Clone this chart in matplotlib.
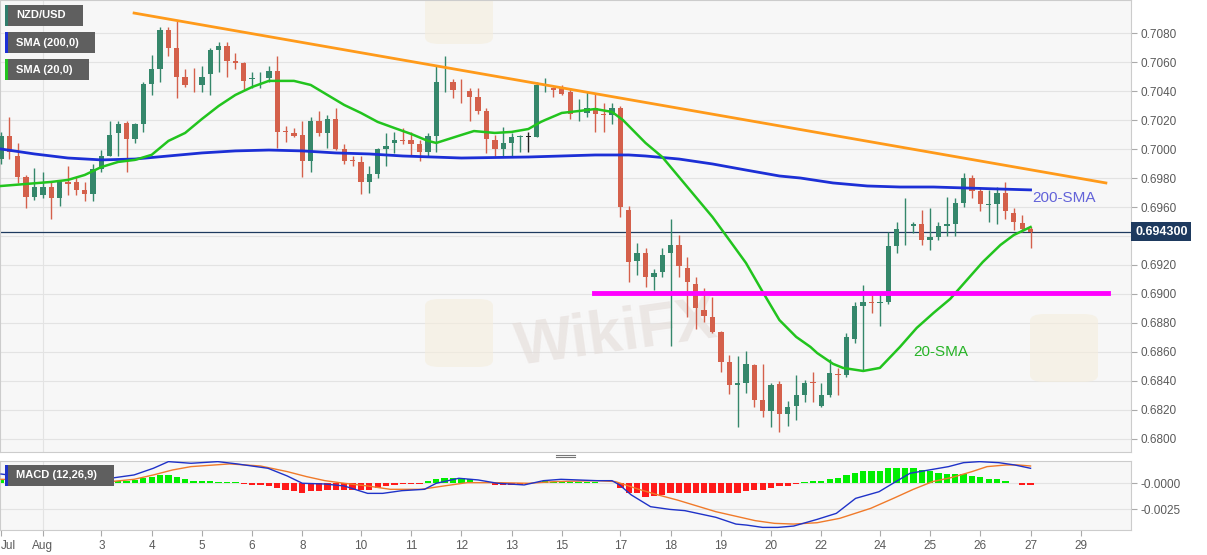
import numpy as np
import matplotlib.pyplot as plt
from matplotlib.patches import Rectangle, FancyBboxPatch
from matplotlib.lines import Line2D

plt.rcParams['font.family'] = ['Liberation Sans', 'DejaVu Sans']

# NZD/USD 4h candles, Jul 30 - Aug 27
opens = [0.6993, 0.7009, 0.6995, 0.6981, 0.6967, 0.6968, 0.6974, 0.6966, 0.6977, 0.6977,
         0.6972, 0.6969, 0.6986, 0.6995, 0.7011, 0.7018, 0.7007, 0.7017, 0.7045, 0.7055,
         0.7082, 0.7070, 0.7050, 0.70438, 0.7044, 0.7052, 0.7068, 0.7071, 0.7061, 0.7059,
         0.70486, 0.70487, 0.7049, 0.7054, 0.70121, 0.7011, 0.7010, 0.6992, 0.7019, 0.7011,
         0.7021, 0.7000, 0.6992, 0.6991, 0.6977, 0.6983, 0.7000, 0.7004, 0.7006, 0.7006,
         0.70035, 0.6998, 0.7009, 0.70452, 0.7046, 0.7041, 0.7040, 0.7036, 0.7026, 0.7006,
         0.7000, 0.7004, 0.70082, 0.70085, 0.7008, 0.70452, 0.7042, 0.7042, 0.7039, 0.70267,
         0.7025, 0.7028, 0.7024, 0.70235, 0.7028, 0.6958, 0.6923, 0.6928, 0.6912, 0.6915,
         0.6928, 0.6934, 0.6918, 0.6907, 0.6889, 0.6884, 0.6874, 0.6853, 0.6837, 0.68386,
         0.6851, 0.6827, 0.6819, 0.6838, 0.6817, 0.6823, 0.6830, 0.6839, 0.6823, 0.6830,
         0.68445, 0.6844, 0.6869, 0.6892, 0.68945, 0.68938, 0.68945, 0.6933, 0.6946, 0.6947,
         0.6948, 0.6937, 0.6939, 0.6947, 0.6948, 0.6963, 0.6980, 0.6971, 0.69614, 0.6962,
         0.6970, 0.6956, 0.6949, 0.6945]
highs = [0.7012, 0.7022, 0.7004, 0.6982, 0.6987, 0.6984, 0.6977, 0.6977, 0.6988, 0.6981,
         0.6977, 0.6990, 0.6999, 0.7019, 0.7019, 0.7019, 0.7018, 0.7046, 0.7065, 0.7084,
         0.7084, 0.7088, 0.7055, 0.7056, 0.7057, 0.7070, 0.7074, 0.7074, 0.7066, 0.7060,
         0.7053, 0.7053, 0.7057, 0.7064, 0.7016, 0.70145, 0.7019, 0.7022, 0.7026, 0.70235,
         0.7028, 0.70035, 0.6995, 0.6995, 0.6988, 0.70007, 0.7011, 0.7012, 0.70145, 0.7012,
         0.7006, 0.7011, 0.7057, 0.7064, 0.7048, 0.7048, 0.7042, 0.7042, 0.7028, 0.7010,
         0.7015, 0.7011, 0.7010, 0.7012, 0.7046, 0.7049, 0.7043, 0.7044, 0.7042, 0.70345,
         0.7039, 0.7038, 0.7032, 0.7032, 0.7030, 0.6961, 0.6935, 0.6932, 0.6917, 0.6932,
         0.6952, 0.6941, 0.69255, 0.6912, 0.6904, 0.6898, 0.68745, 0.6858, 0.6857, 0.6861,
         0.6852, 0.6852, 0.68387, 0.6840, 0.6826, 0.6844, 0.6841, 0.6846, 0.68386, 0.6855,
         0.6849, 0.6873, 0.68945, 0.6906, 0.6899, 0.6901, 0.6943, 0.6950, 0.6966, 0.6950,
         0.6958, 0.6959, 0.6950, 0.6967, 0.6966, 0.69835, 0.6982, 0.6974, 0.6972, 0.6974,
         0.6977, 0.6959, 0.69545, 0.6946]
lows = [0.6990, 0.6993, 0.69766, 0.6959, 0.6965, 0.6966, 0.6952, 0.6961, 0.6968, 0.6968,
        0.6964, 0.6964, 0.6984, 0.6995, 0.6995, 0.6984, 0.7004, 0.7012, 0.7037, 0.7046,
        0.7064, 0.7035, 0.7043, 0.7039, 0.7039, 0.7037, 0.7053, 0.7050, 0.7055, 0.7041,
        0.7042, 0.7042, 0.7046, 0.7001, 0.7005, 0.7008, 0.6981, 0.6984, 0.7009, 0.7001,
        0.6999, 0.6990, 0.6988, 0.6969, 0.6970, 0.6980, 0.6988, 0.6997, 0.70035, 0.6995,
        0.6992, 0.6995, 0.6998, 0.7039, 0.7035, 0.7032, 0.7019, 0.7024, 0.6997, 0.6995,
        0.6995, 0.6995, 0.6998, 0.6998, 0.7008, 0.7039, 0.7036, 0.7037, 0.7021, 0.7019,
        0.7022, 0.7012, 0.7012, 0.7017, 0.6953, 0.6908, 0.6913, 0.6905, 0.6903, 0.6912,
        0.6864, 0.6912, 0.6884, 0.6876, 0.6881, 0.6873, 0.6846, 0.6831, 0.6808, 0.6832,
        0.6822, 0.6815, 0.6808, 0.6805, 0.6809, 0.6813, 0.68255, 0.68255, 0.6822, 0.6829,
        0.6830, 0.6843, 0.6866, 0.6847, 0.6887, 0.6878, 0.6893, 0.6928, 0.6934, 0.6942,
        0.6934, 0.6930, 0.6937, 0.6940, 0.6940, 0.6960, 0.6966, 0.6957, 0.6950, 0.6948,
        0.6952, 0.6944, 0.6943, 0.6932]
closes = [0.7009, 0.6998, 0.6981, 0.6967, 0.6974, 0.6974, 0.6966, 0.6977, 0.69762, 0.6972,
          0.6969, 0.6986, 0.6995, 0.7010, 0.7017, 0.7007, 0.7017, 0.7045, 0.7055, 0.7082,
          0.7070, 0.7050, 0.7044, 0.70432, 0.7050, 0.7068, 0.7071, 0.7061, 0.7059, 0.7047,
          0.7049, 0.70492, 0.7054, 0.7012, 0.70118, 0.7009, 0.6992, 0.7019, 0.7011, 0.7021,
          0.7000, 0.6992, 0.69916, 0.6977, 0.6983, 0.7000, 0.7002, 0.7006, 0.70055, 0.70035,
          0.6998, 0.7009, 0.7046, 0.70456, 0.7041, 0.70405, 0.7036, 0.7026, 0.7007, 0.7000,
          0.7004, 0.7008, 0.70085, 0.70085, 0.7044, 0.70456, 0.7041, 0.7038, 0.7024, 0.70271,
          0.7028, 0.7024, 0.70235, 0.7028, 0.6960, 0.6922, 0.6928, 0.6912, 0.69145, 0.6927,
          0.6934, 0.6919, 0.6908, 0.6890, 0.6885, 0.6874, 0.6853, 0.6837, 0.68386, 0.6852,
          0.6827, 0.6819, 0.6837, 0.6817, 0.6822, 0.6830, 0.68386, 0.68383, 0.6830, 0.68455,
          0.6844, 0.6870, 0.6892, 0.68945, 0.68938, 0.68945, 0.6933, 0.6945, 0.69463, 0.6948,
          0.6937, 0.6939, 0.6947, 0.6948, 0.6963, 0.6980, 0.6971, 0.6962, 0.69621, 0.6970,
          0.6957, 0.6950, 0.6945, 0.6943]

# moving averages (candle index, price)
sma20_x = [0, 3, 6, 8, 10, 12, 14, 16, 18, 20, 22, 24, 26, 28, 30, 32, 35, 37, 39, 41,
           43, 45, 47, 49, 51, 52, 55, 56.5, 59, 61, 63, 64.5, 65, 67, 69, 71, 73, 74.3,
           77, 79, 81, 83, 85, 87, 89, 91, 93, 95, 96.7, 97.5, 99.4, 100.6, 103, 105,
           107.4, 109.4, 111.4, 113.4, 115.4, 117.3, 119.4, 121, 123]
sma20_y = [0.69745, 0.69759, 0.69773, 0.69787, 0.69821, 0.69876, 0.69911, 0.69925, 0.6996,
           0.70056, 0.70111, 0.70207, 0.70297, 0.70373, 0.70428, 0.7047, 0.7047, 0.70442,
           0.70373, 0.70304, 0.70249, 0.70187, 0.70145, 0.70104, 0.70056, 0.70042, 0.70097,
           0.70124, 0.70111, 0.70118, 0.70138, 0.70187, 0.702, 0.70249, 0.70262, 0.70276,
           0.70256, 0.702, 0.70042, 0.69945, 0.69807, 0.69669, 0.69531, 0.69373, 0.69214,
           0.69014, 0.6882, 0.68704, 0.68635, 0.68593, 0.68518, 0.6849, 0.68469, 0.6849,
           0.68635, 0.68766, 0.68869, 0.68966, 0.69097, 0.69221, 0.69338, 0.69407, 0.69462]
sma200_x = [0, 4, 8, 12, 16, 20, 24, 28, 32, 36, 40, 44, 48, 55, 63, 67, 71, 75, 77, 81,
            85, 89, 93, 95.5, 99.4, 103.5, 107.4, 111.4, 115.4, 119.4, 123]
sma200_y = [0.7000, 0.69966, 0.69938, 0.69925, 0.69931, 0.69952, 0.69973, 0.69987, 0.69993,
            0.69987, 0.69973, 0.69966, 0.69952, 0.69938, 0.69945, 0.69952, 0.69959, 0.69959,
            0.69952, 0.69931, 0.69897, 0.69855, 0.69814, 0.6980, 0.69766, 0.69745, 0.69738,
            0.69738, 0.69731, 0.69724, 0.69718]

trend_x = [15.9, 132.0]
trend_y = [0.70938, 0.69766]
support_x = [70.9, 132.2]
support_level = 0.6901

# MACD (12,26,9)
hist = [0.0003, 0.0002, 0.0001, -0.0001, -0.0002, -0.00025, -0.00027, -0.00027, -0.00025, -0.0002,
        -0.00018, -0.0001, 0.0001, 0.00016, 0.00026, 0.00026, 0.0003, 0.0005, 0.00065, 0.0008,
        0.00085, 0.0006, 0.0004, 0.00025, 0.0002, 0.0002, 0.00018, 0.00015, 0.0001, -0.00005,
        -0.0001, -0.0001, -0.0002, -0.0004, -0.0006, -0.0007, -0.0009, -0.0007, -0.0007, -0.0006,
        -0.0006, -0.0006, -0.0006, -0.0006, -0.0006, -0.0004, -0.00025, -0.0001, -0.00008, -0.00005,
        -0.00003, 0.0002, 0.0004, 0.0005, 0.00055, 0.00055, 0.0004, 0.00015, 0.0001, -0.0001,
        -0.00012, -0.00012, -0.0001, -0.00005, 0.00015, 0.0002, 0.00018, 0.00015, 0.00012, 0.0001,
        0.0001, 0.0001, 0.00005, 0.00003, -0.0004, -0.00096, -0.00096, -0.00128, -0.00122, -0.00106,
        -0.00096, -0.00087, -0.00087, -0.00087, -0.00087, -0.0009, -0.0009, -0.0009, -0.0009, -0.0007,
        -0.00064, -0.00058, -0.0004, -0.00026, -0.0002, -0.00007, 0.0001, 0.0002, 0.00026, 0.0004,
        0.0005, 0.00077, 0.001, 0.0012, 0.0012, 0.0012, 0.00144, 0.0015, 0.0015, 0.00144,
        0.00128, 0.0012, 0.001, 0.0009, 0.0009, 0.0009, 0.0007, 0.0006, 0.0004, 0.0004,
        0.0002, 0.00005, -0.0001, -0.00015]
macd_x = [0, 2, 5, 8, 11, 13.5, 15.9, 18.2, 20, 22.7, 25.9, 28.2, 31.9, 34.2, 36, 38.7, 41,
          43.8, 45.6, 47.9, 50.6, 52, 54.7, 57, 59.3, 62.5, 64.8, 66.9, 71.2, 73, 73.9, 75.3,
          77.6, 79.9, 81.7, 85.4, 87.8, 89.1, 91, 92.8, 94.7, 97.5, 99.8, 102.1, 104.9, 106.7,
          108.6, 110.9, 113.2, 115, 116.9, 119.2, 121.1, 123]
macd_y = [0.00091, 0.0007, 0.0003, 0.0001, 0.0003, 0.00055, 0.00082, 0.00146, 0.0021, 0.00194,
          0.0021, 0.00188, 0.00146, 0.00072, 0.00002, -0.00005, -0.00024, -0.00095, -0.00095,
          -0.00069, -0.00056, 0.00002, 0.0005, 0.00034, 0.00002, -0.00014, 0.00027, 0.0004,
          0.00027, 0.00027, -0.00014, -0.0011, -0.00223, -0.00249, -0.00261, -0.00325, -0.0039,
          -0.004, -0.00422, -0.00422, -0.00409, -0.00345, -0.00287, -0.00143, -0.00079, 0.00008,
          0.00098, 0.0013, 0.00162, 0.002, 0.0021, 0.002, 0.00178, 0.00146]
signal_x = [0, 5, 10, 13.1, 15.9, 18.2, 20.5, 22.7, 27.3, 31, 34.2, 36.5, 38.7, 41, 43.8,
            46.5, 50.2, 52.9, 55.7, 59.3, 63, 66.2, 71.2, 73.4, 76.2, 78.5, 80.8, 85.4, 90.1,
            92.4, 94.7, 97.5, 100.2, 103.9, 106.7, 109, 111.3, 113.7, 116, 117.8, 120.1, 121.5, 123]
signal_y = [0.0004, 0.0003, 0.0002, 0.00018, 0.0004, 0.00082, 0.0013, 0.00162, 0.00188,
            0.00168, 0.00114, 0.00066, 0.00027, 0.00002, -0.00024, -0.00056, -0.00056,
            -0.00024, 0.00008, 0.00008, 0.00002, 0.00018, 0.00027, 0.00018, -0.00056, -0.0011,
            -0.00159, -0.00271, -0.00357, -0.00383, -0.0039, -0.00377, -0.00335, -0.00239,
            -0.0014, -0.00056, 0.00018, 0.0006, 0.00114, 0.00162, 0.00178, 0.00178, 0.00168]

tick_pos = [0, 5, 12, 18, 24, 30, 36, 43, 49, 55, 61, 67, 74, 80, 86, 92, 98, 105, 111, 117, 123, 129]
tick_lab = ['Jul', 'Aug', '3', '4', '5', '6', '8', '10', '11', '12', '13', '15', '17', '18',
            '19', '20', '22', '24', '25', '26', '27', '29']

UP, DOWN = '#35876b', '#d4604b'
GRID = '#e3e3e3'
W, H = 1207, 555

fig = plt.figure(figsize=(W / 100, H / 100), dpi=100)
ax = fig.add_axes([0, 103 / H, 1131 / W, 452 / H])
mx = fig.add_axes([0, 25 / H, 1131 / W, 69 / H])

for a in (ax, mx):
    a.set_facecolor('#f7f7f7')
    for s in a.spines.values():
        s.set_color('#cccccc')
    a.set_xlim(-0.12, 135.0)
    a.yaxis.tick_right()
    a.tick_params(axis='y', colors='#5a5a5a', labelsize=8.5, length=4, pad=3)
    a.tick_params(axis='y', color='#aaaaaa')
    a.yaxis.grid(True, color=GRID, lw=0.8)
    a.set_axisbelow(True)
    a.axvline(tick_pos[1], color=GRID, lw=0.8, zorder=0)

# price panel
o, h, l, c = map(np.array, (opens, highs, lows, closes))
x = np.arange(len(c))
cols = np.where(c > o, UP, np.where(c < o, DOWN, '#222222'))
ax.vlines(x, l, h, colors=cols, lw=1, zorder=3)
ax.bar(x, np.maximum(np.abs(c - o), 0.00005), bottom=np.minimum(o, c), width=0.64,
       color=cols, linewidth=0, zorder=4)

ax.plot(sma200_x, sma200_y, color='#1c2fd6', lw=2, zorder=5)
ax.plot(sma20_x, sma20_y, color='#22c41e', lw=1.8, zorder=5)
ax.plot(trend_x, trend_y, color='#ff9a1a', lw=2, zorder=6)
ax.plot(support_x, [support_level] * 2, color='#ff00ff', lw=3.5, zorder=6)
ax.axhline(c[-1], color='#1e3a5f', lw=0.9, zorder=2)

ax.set_ylim(0.6791, 0.71028)
yt = np.round(np.arange(0.6800, 0.70801, 0.002), 4)
ax.set_yticks(yt)
ax.set_yticklabels(['' if abs(v - 0.6940) < 1e-6 else f'{v:.4f}' for v in yt])
ax.set_xticks([])
ax.annotate(f'{c[-1]:.6f}', xy=(1.0, c[-1]), xycoords=('axes fraction', 'data'),
            xytext=(3, 0), textcoords='offset points', ha='left', va='center',
            fontsize=9, color='white', weight='bold', annotation_clip=False,
            bbox=dict(boxstyle='square,pad=0.3', fc='#1e3a5f', ec='none'), zorder=10)

ax.text(123.2, 0.69662, '200-SMA', color='#6363d9', fontsize=11, va='center', ha='left', zorder=7)
ax.text(109, 0.6860, '20-SMA', color='#27b327', fontsize=11, va='center', ha='left', zorder=7)

# watermark
ax.text(512 / W, 1 - 335 / H, 'WikiFX', transform=fig.transFigure, fontsize=44,
        weight='bold', color='#e4dcd8', alpha=0.6, rotation=8, va='center',
        ha='left', zorder=1)
for lx, ly in [(425, 299), (1030, 314), (425, -24)]:
    ax.add_patch(FancyBboxPatch((lx / W, 1 - (ly + 68) / H), 68 / W, 68 / H,
                                boxstyle='round,pad=0,rounding_size=0.012',
                                transform=fig.transFigure, fc='#f5eedd', ec='none',
                                alpha=0.6, clip_on=False, zorder=1))

# MACD panel
hc = ['#00ee00' if v >= 0 else '#ff1a1a' for v in hist]
mx.bar(x, hist, width=0.75, color=hc, linewidth=0, zorder=2)
mx.plot(signal_x, signal_y, color='#f07a2a', lw=1, zorder=3)
mx.plot(macd_x, macd_y, color='#1f32c8', lw=1, zorder=4)
mx.set_ylim(-0.00447, 0.00216)
mx.set_yticks([0, -0.0025])
mx.set_yticklabels(['-0.0000', '-0.0025'])
mx.set_xticks(tick_pos)
mx.set_xticklabels(tick_lab)
mx.get_xticklabels()[0].set_ha('left')
mx.tick_params(axis='x', colors='#5a5a5a', labelsize=8.5, length=4, pad=3)
mx.tick_params(axis='x', color='#aaaaaa')

# indicator labels
def label_box(x0, y0, w, h, text, stripe):
    fig.add_artist(Rectangle((x0 / W, 1 - (y0 + h) / H), w / W, h / H,
                             transform=fig.transFigure, fc='#5f5f5f', ec='none', zorder=20))
    fig.add_artist(Rectangle((x0 / W, 1 - (y0 + h) / H), 2.5 / W, h / H,
                             transform=fig.transFigure, fc=stripe, ec='none', zorder=21))
    fig.text((x0 + 11) / W, 1 - (y0 + h / 2) / H, text, color='white', fontsize=8,
             weight='bold', va='center', ha='left', zorder=22)

label_box(5, 5, 78, 21, 'NZD/USD', '#2f7d6c')
label_box(5, 32, 90, 21, 'SMA (200,0)', '#1c2fd6')
label_box(5, 59, 84, 21, 'SMA (20,0)', '#22c41e')
label_box(5, 465, 109, 21, 'MACD (12,26,9)', '#1f32c8')

for yy in (454.5, 457):
    fig.add_artist(Line2D([556 / W, 575 / W], [1 - yy / H] * 2, color='#777777', lw=0.8))

fig.savefig('out.png', dpi=100, facecolor='white')
